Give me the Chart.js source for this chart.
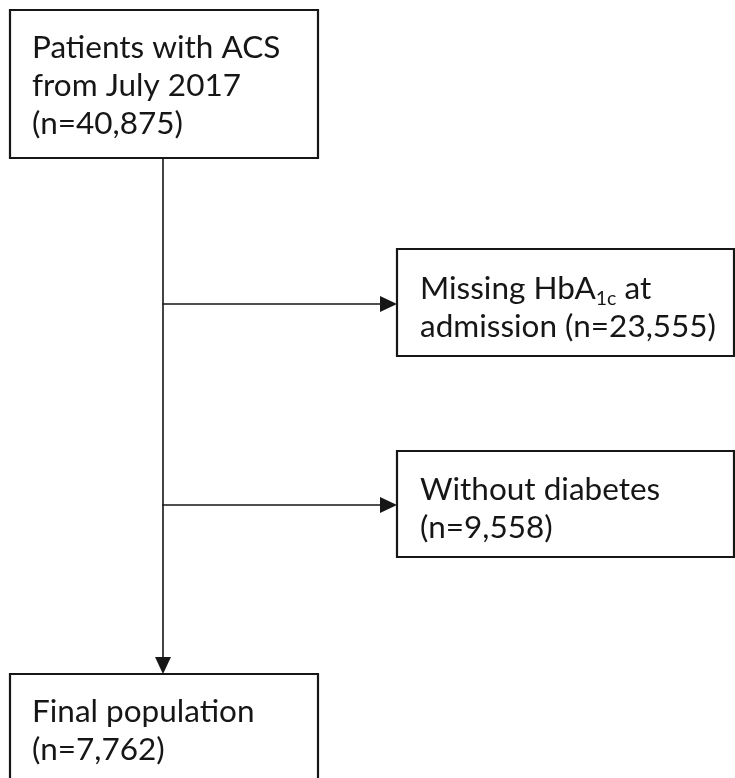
<!DOCTYPE html>
<html>
<head>
<meta charset="utf-8">
<script src="https://cdn.jsdelivr.net/npm/chart.js@4"></script>
<style>
html,body{margin:0;padding:0;background:#fff;}
#wrap{width:735px;height:778px;}
</style>
</head>
<body>
<div id="wrap"><canvas id="c" width="735" height="778"></canvas></div>
<script>
// ---- data ----
const stepNames = ["Patients with ACS from July 2017", "Missing HbA1c at admission", "Without diabetes", "Final population"];
const stepCounts = [40875, 23555, 9558, 7762];
const stepKinds = ["start", "exclude", "exclude", "final"];

// ---- layout (positions in scale units = pixels) ----
const boxes = [
  {x0: 10, y0: 10, x1: 318, y1: 158, tx: 32, lines: [47, 85, 123]},
  {x0: 397, y0: 249, x1: 734, y1: 356, tx: 420, lines: [288, 326]},
  {x0: 397, y0: 451, x1: 734, y1: 557, tx: 420, lines: [489, 527]},
  {x0: 10, y0: 674, x1: 318, y1: 800, tx: 32, lines: [711, 749]}
];
const trunkX = 163;
const branchY = [304, 505];

function fmt(n){ return n.toLocaleString('en-US'); }
// text lines, as arrays of segments {t, sub}
const textLines = [
  [[{t: "Patients with ACS"}], [{t: "from July 2017"}], [{t: "(n=" + fmt(stepCounts[0]) + ")"}]],
  [[{t: "Missing HbA"}, {t: "1c", sub: true}, {t: " at"}], [{t: "admission (n=" + fmt(stepCounts[1]) + ")"}]],
  [[{t: "Without diabetes"}], [{t: "(n=" + fmt(stepCounts[2]) + ")"}]],
  [[{t: "Final population"}], [{t: "(n=" + fmt(stepCounts[3]) + ")"}]]
];

const INK = '#161616';
const datasets = [];
// boxes as closed line datasets
boxes.forEach((b, i) => {
  datasets.push({
    label: stepNames[i],
    data: [{x:b.x0,y:b.y0},{x:b.x1,y:b.y0},{x:b.x1,y:b.y1},{x:b.x0,y:b.y1},{x:b.x0,y:b.y0}],
    borderColor: INK, borderWidth: 2.2, pointRadius: 0, showLine: true, fill: false, tension: 0
  });
});
// trunk line
datasets.push({
  label: 'trunk',
  data: [{x: trunkX, y: boxes[0].y1}, {x: trunkX, y: boxes[3].y0 - 16}],
  borderColor: INK, borderWidth: 1.6, pointRadius: 0, showLine: true
});
// branch lines
branchY.forEach((y, i) => {
  datasets.push({
    label: 'branch' + i,
    data: [{x: trunkX, y: y}, {x: boxes[i+1].x0 - 16, y: y}],
    borderColor: INK, borderWidth: 1.6, pointRadius: 0, showLine: true
  });
});

const flowPlugin = {
  id: 'flow',
  afterDatasetsDraw(chart) {
    const ctx = chart.ctx, xs = chart.scales.x, ys = chart.scales.y;
    const X = v => xs.getPixelForValue(v), Y = v => ys.getPixelForValue(v);
    ctx.save();
    ctx.fillStyle = INK;
    // arrowheads
    function tri(p1, p2, p3){
      ctx.beginPath(); ctx.moveTo(X(p1[0]),Y(p1[1])); ctx.lineTo(X(p2[0]),Y(p2[1])); ctx.lineTo(X(p3[0]),Y(p3[1])); ctx.closePath(); ctx.fill();
    }
    branchY.forEach((y, i) => {
      const tip = boxes[i+1].x0;
      tri([tip, y], [tip - 17, y - 8], [tip - 17, y + 8]);
    });
    const tipY = boxes[3].y0;
    tri([trunkX, tipY], [trunkX - 8, tipY - 17], [trunkX + 8, tipY - 17]);
    // text
    const fam = 'Lato, "Open Sans", sans-serif';
    const size = 31.5;
    ctx.textBaseline = 'alphabetic';
    ctx.textAlign = 'left';
    textLines.forEach((lines, i) => {
      const b = boxes[i];
      lines.forEach((segs, j) => {
        let x = X(b.tx);
        const base = Y(b.lines[j]) + size * 0.36;
        segs.forEach(s => {
          if (s.sub) {
            ctx.font = (size * 0.62).toFixed(1) + 'px ' + fam;
            ctx.fillText(s.t, x, base + size * 0.18);
          } else {
            ctx.font = size + 'px ' + fam;
            ctx.fillText(s.t, x, base);
          }
          x += ctx.measureText(s.t).width;
        });
      });
    });
    ctx.restore();
  }
};

new Chart(document.getElementById('c'), {
  type: 'scatter',
  data: { datasets },
  options: {
    responsive: false,
    animation: false,
    layout: { padding: 0 },
    plugins: { legend: { display: false }, tooltip: { enabled: false } },
    scales: {
      x: { type: 'linear', min: 0, max: 735, display: false },
      y: { type: 'linear', min: 0, max: 778, reverse: true, display: false }
    },
    elements: { line: { borderCapStyle: 'square', borderJoinStyle: 'miter' } }
  },
  plugins: [flowPlugin]
});
</script>
</body>
</html>
